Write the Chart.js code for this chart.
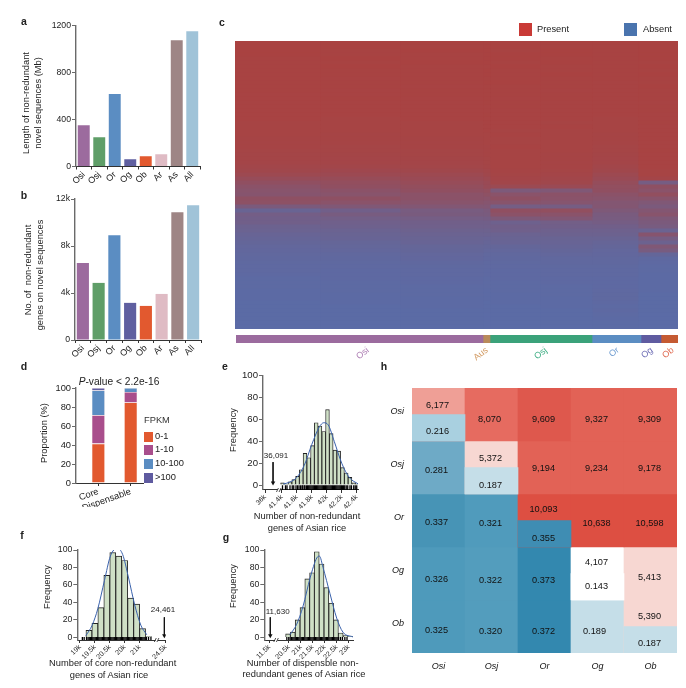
<!DOCTYPE html>
<html><head><meta charset="utf-8">
<style>
html,body{margin:0;padding:0;background:#fff;width:686px;height:688px;overflow:hidden}
canvas{position:absolute;left:0;top:0;pointer-events:none}
.t{position:absolute;white-space:nowrap;color:#222;font-family:"Liberation Sans",Arial,sans-serif;line-height:1;transform:translate(-50%,-50%)}
.s{position:absolute}
</style>
<script src="https://cdn.jsdelivr.net/npm/chart.js@4"></script>
</head><body>
<script>
// ---------- data ----------
const speciesLabels=['Osi','Osj','Or','Og','Ob','Ar','As','All'];
const novelLength=[352,250,616,62,88,105,1075,1152];
const novelGenes=[6550,4860,8920,3160,2900,3920,10870,11460];

const heatColumnSizes=[85,80,83,7,50,52,46,40];
const heatPresence=[
[99,99,99,99,99,99,99,99],[99,99,98,99,99,98,98,99],[99,98,99,99,98,99,98,99],[99,98,98,99,99,99,98,99],
[98,99,98,99,99,98,98,99],[98,98,99,99,98,99,98,98],[98,99,98,98,99,98,98,99],[98,98,98,99,98,98,98,98],
[98,98,98,99,98,99,98,99],[98,97,98,98,98,98,98,98],[98,98,98,99,99,98,97,98],[98,98,97,98,98,98,97,99],
[98,97,98,98,98,97,97,98],[97,97,98,98,98,98,97,98],[97,98,97,98,97,98,97,98],[97,97,97,98,98,97,97,97],
[97,97,97,97,98,97,97,98],[97,97,97,97,97,97,97,98],[97,97,97,98,97,97,97,97],[97,96,97,97,97,97,96,97],
[96,96,96,97,97,96,96,98],[96,96,96,97,97,97,96,97],[96,96,96,97,96,96,96,97],[96,95,96,96,97,96,95,97],
[95,95,95,96,96,96,95,97],[95,95,95,96,96,96,95,97],[95,94,95,95,97,96,94,97],[94,94,94,95,96,96,94,98],
[93,93,94,95,96,95,93,97],[93,92,93,94,96,95,92,97],[92,92,92,94,96,95,92,97],
[90,90,91,93,96,95,90,97],[88,87,88,90,95,94,88,96],[84,83,84,88,94,92,84,96],[76,77,80,84,92,90,80,92],
[68,71,76,80,90,88,74,36],[62,68,72,78,82,80,70,66],[58,62,68,70,44,48,68,60],[56,58,62,65,60,62,62,70],
[66,66,62,60,66,60,58,58],[64,60,58,55,58,55,52,48],[42,48,50,50,34,36,52,42],[20,30,38,42,68,70,46,52],
[33,38,40,40,62,60,40,58],[30,32,34,35,46,50,38,46],[30,28,30,30,26,32,35,42],[24,26,28,28,30,30,30,38],
[22,22,25,25,28,26,26,22],[18,20,22,22,22,24,24,56],[16,18,20,18,20,20,20,36],[14,15,18,16,18,18,16,24],
[12,13,15,14,14,16,14,48],[11,12,14,12,12,14,12,38],[10,10,12,10,10,12,11,14],[9,9,11,9,9,10,10,8],
[8,8,9,8,8,9,9,6],[7,7,8,7,7,8,8,5],[7,6,7,6,6,7,7,5],[6,6,7,6,6,7,7,4],[5,6,6,5,6,6,6,4],
[5,5,6,5,5,6,6,4],[5,5,5,5,5,5,6,4],[4,5,5,4,5,5,7,4],[4,4,5,4,4,5,8,3],[4,4,4,4,4,4,8,3],
[3,4,4,3,4,4,6,3],[3,3,4,3,3,4,5,3],[3,3,3,3,3,3,6,3],[3,3,3,2,3,3,5,2],[3,3,3,2,3,3,4,2],[2,2,3,2,2,3,3,2],[2,2,2,2,2,2,3,2]];

const groupNames=['Osi','Aus','Osj','Or','Og','Ob'];
const groupSizes=[247,7,102,49,20,17];
const groupTickAt=[132,251,310,382,416,437];

const fpkmNames=['0-1','1-10','10-100','>100'];
const doseGroups=['Core','Dispensable'];
const fpkmCore=[41.5,30,26,2.5];
const fpkmDisp=[84.8,11,4.2,0];

const eTicks=[41.177,41.4,41.6,41.8,42,42.2,42.4];
const eTickLabels=['36k','41.4k','41.6k','41.8k','42k','42.2k','42.4k'];
const eBinCenters=[41.41,41.46,41.51,41.56,41.61,41.66,41.71,41.76,41.81,41.86,41.91,41.96,42.01,42.06,42.11,42.16,42.21,42.26,42.31,42.36,42.41];
const eCounts=[2,1,3,5,8,14,29,25,36,57,54,49,69,47,32,31,16,11,7,2,1];
const eCurveX=[41.42,41.5,41.6,41.7,41.8,41.9,41.96,42.02,42.1,42.2,42.3,42.42];
const eCurveY=[1,2.5,7,18,37,53,57,55,40,20,7,1];
const eRug=[41.41,41.45,41.47,41.51,41.54,41.56,41.59,41.61,41.63,41.65,41.67,41.68,41.7,41.71,41.73,41.745,41.76,41.775,41.79,41.805,41.82,41.835,41.85,41.865,41.88,41.895,41.91,41.925,41.94,41.955,41.97,41.985,42,42.015,42.03,42.045,42.06,42.075,42.09,42.105,42.12,42.135,42.15,42.165,42.18,42.195,42.21,42.225,42.24,42.26,42.28,42.31,42.33,42.36,42.38,42.4];
const eObserved=41.284;

const fTicks=[19,19.5,20,20.5,21,21.875];
const fTickLabels=['19k','19.5k','20.5k','20k','21k','24.5k'];
const fBinCenters=[19.3,19.5,19.7,19.9,20.1,20.3,20.5,20.7,20.9,21.1,21.3];
const fCounts=[8,16,34,71,97,93,88,45,38,10,1];
const fCurveX=[19.2,19.41,19.6,19.82,20.02,20.25,20.43,20.63,20.83,21.04,21.24];
const fCurveY=[2,14,33,65,93,102,95,68,38,14,3];
const fRug=[19.08,19.14,19.22,19.27,19.31,19.35,19.39,19.43,19.47,19.51,19.55,19.59,19.63,19.67,19.71,19.75,19.79,19.83,19.87,19.91,19.95,19.99,20.03,20.07,20.11,20.15,20.19,20.23,20.27,20.31,20.35,20.39,20.43,20.47,20.51,20.55,20.59,20.63,20.67,20.71,20.75,20.79,20.83,20.87,20.91,20.95,20.99,21.03,21.07,21.11,21.15,21.19,21.23,21.3,21.38];
const fObserved=21.83;

const gTicks=[19.69,20.5,21,21.5,22,22.5,23];
const gTickLabels=['11.5k','20.5k','21k','21.5k','22k','22.5k','23k'];
const gBinCenters=[20.47,20.67,20.87,21.07,21.27,21.47,21.67,21.87,22.07,22.27,22.47,22.67,22.87,23.07];
const gCounts=[4,6,20,34,67,74,98,84,57,39,20,5,2,1];
const gCurveX=[20.55,20.83,21.1,21.39,21.67,21.78,21.93,22.22,22.5,22.76,23.18];
const gCurveY=[3,15,36,68,91,93,80,50,22,6,0.5];
const gRug=[20.42,20.5,20.56,20.62,20.67,20.72,20.77,20.82,20.87,20.92,20.97,21.02,21.07,21.12,21.17,21.22,21.27,21.32,21.37,21.42,21.47,21.52,21.57,21.62,21.67,21.72,21.77,21.82,21.87,21.92,21.97,22.02,22.07,22.12,22.17,22.22,22.27,22.32,22.37,22.42,22.47,22.52,22.58,22.66,22.74,22.84,22.93];
const gObserved=19.73;

const matrixNames=['Osi','Osj','Or','Og','Ob'];
const matrixText=[
['6,177','8,070','9,609','9,327','9,309'],
['0.281','5,372','9,194','9,234','9,178'],
['0.337','0.321','10,093','10,638','10,598'],
['0.326','0.322','0.373','4,107','5,413'],
['0.325','0.320','0.372','0.189','5,390']];
const matrixDiagonal=['0.216','0.187','0.355','0.143','0.187'];

// ---------- styling tables ----------
const speciesColors=['#9C6B9E','#5F9E68','#5B8DC2','#5F5FA0','#E2592F','#DFBBC4','#9E8585','#A0C3D8'];
const groupColors=['#9B6B9E','#B98A5A','#3BA27A','#5B8DC2','#5F5BA0','#C55A32'];
const groupTextColors=['#AE7FB4','#D29A62','#3FAE84','#6D9BD0','#6D6DB5','#E06A50'];
const fpkmColors=['#E2592F','#A94E8C','#5B8DC2','#5F5BA0'];
const matrixColors=[
['#EF9F96','#E66B60','#DE584D','#E26256','#E26256'],
['#6EAAC6','#F7D7D2','#E26256','#E26256','#E26256'],
['#4794B6','#509BBC','#DD4F42','#DD4F42','#DD4F42'],
['#4E9ABB','#539DBD','#3388AF','#FFFFFF','#F7D7D2'],
['#4E9ABB','#539DBD','#3388AF','#C5DEE8','#F7D7D2']];
const matrixDiagonalColors=['#A9D0E0','#C5DEE8','#3F8DB3','#FFFFFF','#C5DEE8'];
const matrixTextDy=[
[-.167,.10,.10,.10,.10],
[.06,-.167,.02,.02,.02],
[.035,.06,-.21,.06,.06],
[.11,.135,.135,-.2,.08],
[.08,.10,.10,.10,-.18]];
const matrixDiagonalDy=[.32,.34,.34,.25,.32];
const matrixTextDx=[
[-1,-2,-1,-1,-1],[-2,-1,-1,-1,-1],[-2,-1,-1,-1,-1],[-2,-1,-1,-1,-1],[-2,-1,-1,-3,-1]];

// ---------- helpers ----------
const W=686,H=688,FONT='"Liberation Sans",Arial,sans-serif';
Chart.defaults.font.family=FONT;
Chart.defaults.color='#222';
Chart.defaults.animation=false;
Chart.defaults.devicePixelRatio=1;

function text(str,x,y,o={}){
  const d=document.createElement('div');d.className='t';
  d.innerHTML=str;
  d.style.left=x+'px';d.style.top=y+'px';
  d.style.fontSize=(o.size||9.3)+'px';
  if(o.bold)d.style.fontWeight='bold';
  if(o.italic)d.style.fontStyle='italic';
  if(o.color)d.style.color=o.color;
  let tr=o.left?'translate(0,-50%)':'translate(-50%,-50%)';
  if(o.rot)tr+=' rotate('+o.rot+'deg)';
  d.style.transform=tr;
  document.body.appendChild(d);
}
function square(x,y,w,h,c){
  const d=document.createElement('div');d.className='s';
  d.style.cssText+=`left:${x}px;top:${y}px;width:${w}px;height:${h}px;background:${c}`;
  document.body.appendChild(d);
}
function make(rect,cfg,yw=0,xh=0,plugins=[]){
  const cv=document.createElement('canvas');cv.width=W;cv.height=H;
  cv.style.width=W+'px';cv.style.height=H+'px';
  document.body.appendChild(cv);
  cfg.plugins=plugins;
  cfg.options=Object.assign({responsive:false,maintainAspectRatio:false,
    layout:{autoPadding:false,padding:{left:rect.l-yw,top:rect.t,right:W-rect.r,bottom:H-rect.b-xh}},
    plugins:{legend:{display:false},title:{display:false},tooltip:{enabled:false}}},cfg.options);
  const s=cfg.options.scales||{};
  if(s.x&&s.x.display!==false)s.x.afterFit=a=>{a.height=xh};
  if(s.y&&s.y.display!==false)s.y.afterFit=a=>{a.width=yw};
  return new Chart(cv.getContext('2d'),cfg);
}
const SPINE='#6a6a6a',INK='#333';
function yAxis(extra){return Object.assign({
  border:{display:true,color:SPINE,width:1.4},
  grid:{drawOnChartArea:false,drawTicks:true,tickLength:4,color:SPINE,lineWidth:1}},extra)}
function xAxisBase(extra){return Object.assign({
  border:{display:true,color:INK,width:1},
  grid:{drawOnChartArea:false,drawTicks:true,tickLength:3,color:INK,lineWidth:1}},extra)}

// ---------- panels a, b ----------
function speciesBars(rect,values,yMax,yLabels){
  const step=yMax/3;
  make(rect,{type:'bar',data:{labels:speciesLabels,datasets:[{data:values,backgroundColor:speciesColors,barPercentage:.77,categoryPercentage:1}]},
    options:{scales:{
      x:xAxisBase({ticks:{font:{size:9},minRotation:45,maxRotation:45,padding:0,color:'#222',autoSkip:false}}),
      y:yAxis({min:0,max:yMax,ticks:{stepSize:step,font:{size:8.7},padding:1,color:'#222',callback:(v,i)=>yLabels[i]}})
    }}},24,24);
}
speciesBars({l:76,r:200,t:25.5,b:166.5},novelLength,1200,['0','400','800','1200']);
speciesBars({l:75,r:201,t:199,b:340},novelGenes,12000,['0','4k','8k','12k']);

// ---------- panel c ----------
const RED=[170,66,64],BLUE=[89,108,168];
const shade=p=>{const f=p/100;return `rgb(${RED.map((c,i)=>Math.round(c*f+BLUE[i]*(1-f))).join(',')})`};
make({l:235,r:678,t:41,b:329},{type:'bar',data:{
  labels:heatPresence.map((_,i)=>'r'+i),
  datasets:heatColumnSizes.map((size,c)=>({
    data:heatPresence.map(()=>size),
    backgroundColor:heatPresence.map(r=>shade(r[c])),
    barPercentage:1,categoryPercentage:1,inflateAmount:.4}))},
  options:{indexAxis:'y',scales:{
    x:{display:false,stacked:true,min:0,max:443},
    y:{display:false,stacked:true}}}});
make({l:236,r:678,t:335,b:343},{type:'bar',data:{labels:['groups'],
  datasets:groupSizes.map((v,i)=>({data:[v],backgroundColor:groupColors[i],barPercentage:1,categoryPercentage:1}))},
  options:{indexAxis:'y',scales:{
    x:{stacked:true,min:0,max:442,border:{display:false},grid:{display:false,drawTicks:false},
       afterBuildTicks:a=>{a.ticks=groupTickAt.map(v=>({value:v}))},
       ticks:{autoSkip:false,minRotation:38,maxRotation:38,padding:2,font:{size:9},
         color:c=>groupTextColors[c.index],callback:(v,i)=>groupNames[i]}},
    y:{display:false,stacked:true}}}},0,20);

// ---------- panel d ----------
make({l:76,r:143,t:388,b:483},{type:'bar',data:{
  datasets:fpkmNames.map((n,i)=>({label:n,
    data:[{x:1,y:fpkmCore[i]},{x:2,y:fpkmDisp[i]}],
    backgroundColor:fpkmColors[i],borderColor:'rgba(255,225,215,.55)',borderWidth:.6,
    barPercentage:.41,categoryPercentage:1}))},
  options:{scales:{
    x:xAxisBase({type:'linear',offset:false,stacked:true,min:.31,max:2.38,
      grid:{offset:false,drawOnChartArea:false,drawTicks:true,tickLength:3,color:INK,lineWidth:1},
      afterBuildTicks:a=>{a.ticks=[1,2].map(v=>({value:v}))},
      ticks:{autoSkip:false,minRotation:20,maxRotation:20,padding:0,font:{size:9.3},color:'#222',callback:(v,i)=>doseGroups[i]}}),
    y:yAxis({stacked:true,min:0,max:100,ticks:{stepSize:20,font:{size:9.3},padding:1,color:'#222'}})
  }}},24,24);

// ---------- panels e, f, g ----------
function breakMark(at){return{id:'axisBreak',afterDraw(ch){
  const c=ch.ctx,x=ch.scales.x.getPixelForValue(at),y=ch.chartArea.bottom;
  c.save();c.fillStyle='#fff';c.fillRect(x-1,y-1.5,2.4,3);
  c.strokeStyle='#222';c.lineWidth=.8;
  [-1.3,1.3].forEach(d=>{c.beginPath();c.moveTo(x+d-1,y+2);c.lineTo(x+d+1,y-2);c.stroke()});
  c.restore();}}}
function hist(rect,o){
  make(rect,{type:'bar',data:{datasets:[
    {type:'line',data:[{x:o.observed,y:o.arrowFrom},{x:o.observed,y:o.arrowTo}],borderColor:'#111',borderWidth:.9,
      pointRadius:[0,2.6],pointStyle:'triangle',pointRotation:180,pointBackgroundColor:'#111',pointBorderWidth:0,tension:0},
    {type:'line',data:o.curveX.map((x,i)=>({x,y:o.curveY[i]})),borderColor:'#3A62AC',borderWidth:1,pointRadius:0,cubicInterpolationMode:'monotone'},
    {type:'scatter',data:o.rug.map(x=>({x,y:o.rugY})),pointStyle:'line',pointRotation:90,pointRadius:o.rugR,
      borderColor:'#000',pointBorderColor:'#000',pointBorderWidth:1.3,showLine:false},
    {type:'bar',data:o.centers.map((x,i)=>({x,y:o.counts[i]})),backgroundColor:'#CFE0C6',borderColor:'#222',borderWidth:.9,
      barPercentage:1,categoryPercentage:1}]},
    options:{scales:{
      x:xAxisBase({type:'linear',offset:false,min:o.min,max:o.max,
        grid:{offset:false,drawOnChartArea:false,drawTicks:true,tickLength:3,color:INK,lineWidth:1},
        afterBuildTicks:a=>{a.ticks=o.ticks.map(v=>({value:v}))},
        ticks:{autoSkip:false,minRotation:45,maxRotation:45,padding:0,font:{size:7},color:'#222',callback:(v,i)=>o.labels[i]}}),
      y:yAxis({min:o.yMin,max:100,
        afterBuildTicks:a=>{a.ticks=[0,20,40,60,80,100].map(v=>({value:v}))},
        ticks:{font:{size:o.ySize},padding:1,color:'#222',autoSkip:false,callback:v=>String(v)}})
    }}},24,24,[breakMark(o.breakAt)]);
}
hist({l:263,r:358,t:375.7,b:490},{centers:eBinCenters,counts:eCounts,curveX:eCurveX,curveY:eCurveY,rug:eRug,rugY:-2.3,rugR:2.4,ySize:9.6,
  observed:eObserved,arrowFrom:21,arrowTo:2,ticks:eTicks,labels:eTickLabels,min:41.15,max:42.417,yMin:-4.5,breakAt:41.36});
hist({l:77.3,r:165.7,t:550,b:640},{centers:fBinCenters,counts:fCounts,curveX:fCurveX,curveY:fCurveY,rug:fRug,rugY:-1.5,rugR:1.6,ySize:8.7,
  observed:fObserved,arrowFrom:23,arrowTo:2,ticks:fTicks,labels:fTickLabels,min:18.91,max:21.875,yMin:-3,breakAt:21.57});
hist({l:264.3,r:353,t:550,b:640},{centers:gBinCenters,counts:gCounts,curveX:gCurveX,curveY:gCurveY,rug:gRug,rugY:-1.5,rugR:1.6,ySize:8.7,
  observed:gObserved,arrowFrom:23,arrowTo:2,ticks:gTicks,labels:gTickLabels,min:19.48,max:23.18,yMin:-3,breakAt:19.97});

// ---------- panel h ----------
const matrixDraw={id:'matrixText',afterDatasetsDraw(ch){
  const c=ch.ctx,xs=ch.scales.x,ys=ch.scales.y;
  c.save();c.font='9.2px '+FONT;c.fillStyle='#111';c.textAlign='center';c.textBaseline='middle';
  matrixText.forEach((row,r)=>row.forEach((t,col)=>{
    c.fillText(t,xs.getPixelForValue(col)+matrixTextDx[r][col],ys.getPixelForValue(r+.5+matrixTextDy[r][col]));
  }));
  matrixDiagonal.forEach((t,i)=>{
    c.fillText(t,xs.getPixelForValue(i)-1,ys.getPixelForValue(i+.5+matrixDiagonalDy[i]));
  });
  c.restore();}};
make({l:412,r:677,t:388,b:653},{type:'bar',data:{labels:matrixNames,datasets:[
  {data:matrixDiagonal.map((_,i)=>[i+.5,i+1]),backgroundColor:matrixDiagonalColors,barPercentage:1,categoryPercentage:1},
  ...matrixText.map((row,r)=>({data:row.map(()=>[r,r+1]),backgroundColor:matrixColors[r],barPercentage:1,categoryPercentage:1}))
]},options:{grouped:false,scales:{
  x:{grid:{display:false,drawTicks:false},border:{display:false},
     ticks:{font:{size:9,style:'italic'},padding:8,color:'#111',autoSkip:false,maxRotation:0}},
  y:{type:'linear',reverse:true,min:0,max:5,grid:{display:false,drawTicks:false},border:{display:false},
     afterBuildTicks:a=>{a.ticks=[.5,1.5,2.5,3.5,4.5].map(v=>({value:v}))},
     ticks:{font:{size:9,style:'italic'},padding:8,color:'#111',autoSkip:false,labelOffset:-3,callback:(v,i)=>matrixNames[i]}}
}}},28,24,[matrixDraw]);

// ---------- text ----------
[['a',24,21],['b',24,195],['c',222,22],['d',24,366],['e',225,366],['f',22,535],['g',226,537],['h',384,366]]
  .forEach(l=>text(l[0],l[1],l[2],{bold:true,size:10.5}));
text('Length of non-redundant',27,103,{rot:-90});
text('novel sequences (Mb)',38.7,103,{rot:-90});
text('No. of&nbsp; non-redundant',29,270,{rot:-90});
text('genes on novel sequences',40.7,275,{rot:-90});
square(519,23,13,13,'#C93A36');text('Present',537,29.5,{left:true});
square(624,23,13,13,'#4A74AE');text('Absent',643,29.5,{left:true});
text('<i>P</i>-value &lt; 2.2e-16',119,381.7,{size:10.2});
text('Proportion (%)',45,433,{rot:-90});
text('FPKM',144,421,{left:true,color:'#333'});
[[432,437],[445,450],[459,464],[473,478]].forEach((p,i)=>{
  square(144,p[0],9,10,fpkmColors[i]);
  text(fpkmNames[i],155,p[1],{left:true});
});
text('Frequency',234,430,{rot:-90});
text('36,091',276,456,{size:8});
text('Number of non-redundant',307,517);
text('genes of Asian rice',307,529);
text('Frequency',48,587,{rot:-90});
text('24,461',163,610,{size:8});
text('Number of core non-redundant',112.7,664);
text('genes of Asian rice',109,676);
text('Frequency',234,586,{rot:-90});
text('11,630',277.7,611.7,{size:8});
text('Number of dispensble non-',302.7,664);
text('redundant genes of Asian rice',304,675);
</script>
</body></html>
